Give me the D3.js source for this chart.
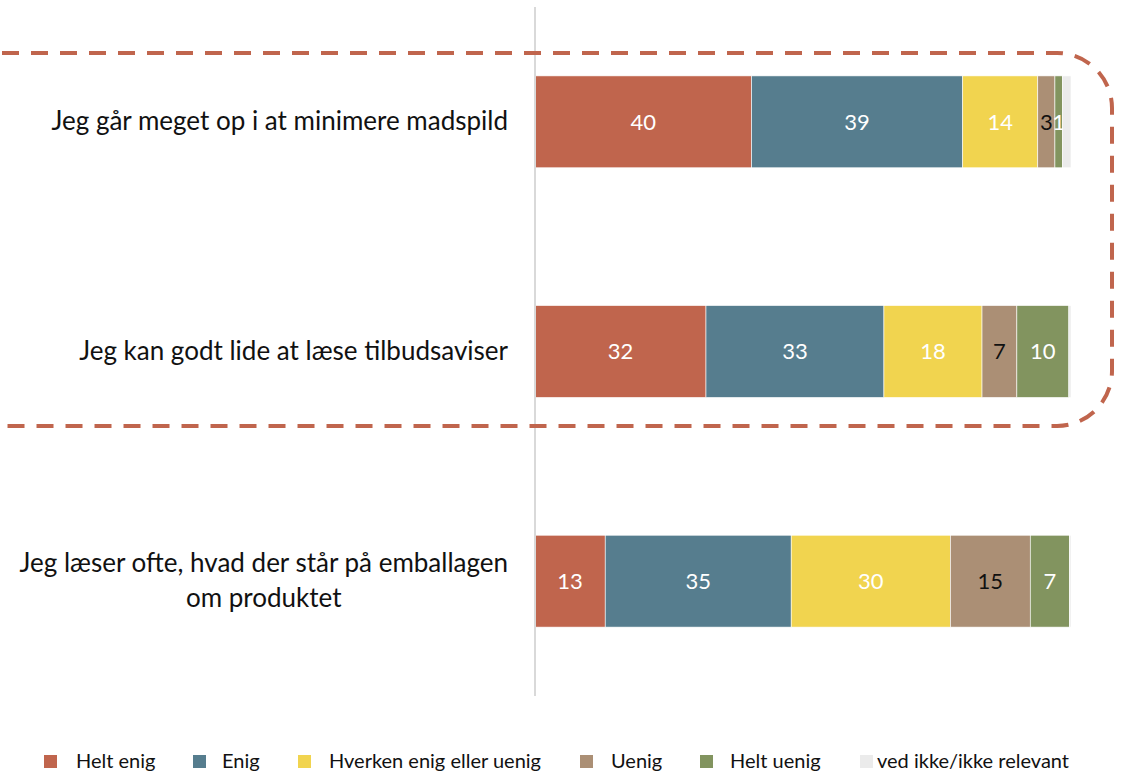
<!DOCTYPE html>
<html>
<head>
<meta charset="utf-8">
<script src="https://cdn.jsdelivr.net/npm/d3@7"></script>
<style>
  html, body { margin: 0; padding: 0; background: #fff; }
  svg { display: block; font-family: "Source Sans Pro", Lato, "Noto Sans", sans-serif; }
</style>
</head>
<body>
<div id="chart"></div>
<script>
// data
const categories = [
  "Jeg går meget op i at minimere madspild",
  "Jeg kan godt lide at læse tilbudsaviser",
  "Jeg læser ofte, hvad der står på emballagen om produktet"
];
const series = ["Helt enig", "Enig", "Hverken enig eller uenig", "Uenig", "Helt uenig", "ved ikke/ikke relevant"];
const heltEnig   = [40.4, 31.9, 13.1];
const enig       = [39.4, 33.2, 34.7];
const hverken    = [14.0, 18.3, 29.7];
const uenig      = [3.2, 6.5, 14.9];
const heltUenig  = [1.4, 9.7, 7.3];
const vedIkke    = [1.6, 0.4, 0.3];

const width = 1124, height = 771;
const colors = ["#c0654d", "#567d8e", "#f1d44f", "#ab8f75", "#82945f", "#ebebeb"];
const labelColors = ["#fff", "#fff", "#fff", "#111", "#fff", "none"];

const svg = d3.select("#chart").append("svg")
  .attr("width", width).attr("height", height);

const rows = categories.map((c, i) => ({
  cat: c,
  "Helt enig": heltEnig[i], "Enig": enig[i], "Hverken enig eller uenig": hverken[i],
  "Uenig": uenig[i], "Helt uenig": heltUenig[i], "ved ikke/ikke relevant": vedIkke[i]
}));

const stacked = d3.stack().keys(series)(rows);

const x = d3.scaleLinear().domain([0, 100]).range([535, 1071]);
const y = d3.scaleBand().domain(categories).range([7, 696])
  .paddingInner(0.6).paddingOuter(0.3);

// bars
const layers = svg.append("g").selectAll("g")
  .data(stacked)
  .join("g")
    .attr("fill", (d, i) => colors[i]);

layers.selectAll("rect")
  .data(d => d)
  .join("rect")
    .attr("x", d => x(d[0]))
    .attr("width", d => x(d[1]) - x(d[0]))
    .attr("y", d => y(d.data.cat))
    .attr("height", y.bandwidth())
    .attr("stroke", "#fff")
    .attr("stroke-width", 0.6);

// value labels
layers.each(function(layer, i) {
  if (labelColors[i] === "none") return;
  d3.select(this).selectAll("text")
    .data(layer)
    .join("text")
      .attr("x", d => (x(d[0]) + x(d[1])) / 2)
      .attr("y", d => y(d.data.cat) + y.bandwidth() / 2)
      .attr("dy", "0.35em")
      .attr("text-anchor", "middle")
      .attr("fill", labelColors[i])
      .style("font-size", "22px")
      .text(d => d3.format(".0f")(d[1] - d[0]));
});

// vertical axis line
svg.append("line")
  .attr("x1", x(0)).attr("x2", x(0))
  .attr("y1", y.range()[0]).attr("y2", y.range()[1])
  .attr("stroke", "#d9d9d9").attr("stroke-width", 2);

// category labels (wrapped lines are centred on each other)
const labelRight = x(0) - 27, labelSize = 26;
svg.append("g").selectAll("text")
  .data(categories)
  .join("text")
    .attr("y", d => y(d) + y.bandwidth() / 2)
    .style("font-size", labelSize + "px")
    .attr("fill", "#111")
    .text(d => d)
    .call(wrap, 500);

function wrap(texts, maxW) {
  texts.each(function() {
    const t = d3.select(this);
    const words = t.text().split(/\s+/);
    const yy = +t.attr("y");
    t.text(null);
    let line = [], lines = [];
    let ts = t.append("tspan");
    words.forEach(w => {
      line.push(w);
      ts.text(line.join(" "));
      if (ts.node().getComputedTextLength() > maxW && line.length > 1) {
        line.pop();
        ts.text(line.join(" "));
        lines.push(ts);
        line = [w];
        ts = t.append("tspan").text(w);
      }
    });
    lines.push(ts);
    const widest = d3.max(lines, s => s.node().getComputedTextLength());
    const cx = labelRight - widest / 2;
    const lh = 35;
    const off = -(lines.length - 1) * lh / 2;
    t.attr("text-anchor", "middle");
    lines.forEach((s, k) => s.attr("x", cx).attr("y", yy + off + k * lh).attr("dy", "0.33em"));
  });
}

// dashed highlight outline
const r = 55, boxTop = 53, boxBottom = 426, boxRight = 1112;
svg.append("path")
  .attr("d", `M ${2 - 29} ${boxTop} H ${boxRight - r} A ${r} ${r} 0 0 1 ${boxRight} ${boxTop + r}
              V ${boxBottom - r} A ${r} ${r} 0 0 1 ${boxRight - r} ${boxBottom} H -30`)
  .attr("fill", "none")
  .attr("stroke", "#c0654d")
  .attr("stroke-width", 4)
  .attr("stroke-dasharray", "17 12");

// legend
const legendX = [44, 193, 298, 580, 700, 860];
const legendTextDx = [32, 29, 31, 31, 30, 17];
const legend = svg.append("g");
series.forEach((s, i) => {
  legend.append("rect")
    .attr("x", legendX[i]).attr("y", 755)
    .attr("width", 13).attr("height", 13)
    .attr("fill", colors[i]);
  legend.append("text")
    .attr("x", legendX[i] + legendTextDx[i]).attr("y", 768)
    .style("font-size", "20px")
    .attr("fill", "#111")
    .text(s);
});
</script>
</body>
</html>
